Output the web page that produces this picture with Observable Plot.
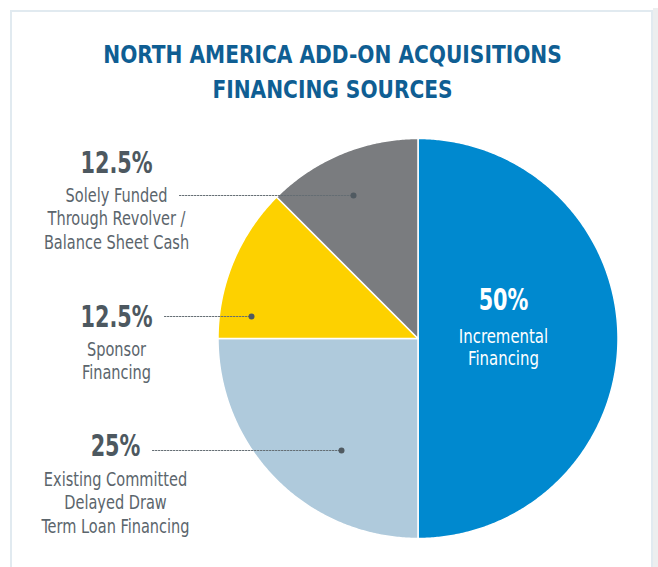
<!DOCTYPE html>
<html>
<head>
<meta charset="utf-8">
<script src="https://cdn.jsdelivr.net/npm/d3@7"></script>
<script src="https://cdn.jsdelivr.net/npm/@observablehq/plot@0.6"></script>
<style>
  html, body { margin: 0; padding: 0; background: #ffffff; }
  body { width: 658px; height: 567px; position: relative; overflow: hidden; }
  .frame { position: absolute; left: 10px; top: 10px; width: 639px; height: 600px;
           border: 2px solid #e1eaf0; box-sizing: content-box; }
  .shade { position: absolute; left: 653px; top: 8px; width: 5px; height: 600px; background: #eceeef; }
  #chart { position: absolute; left: 0; top: 0; }
</style>
</head>
<body>
<div class="shade"></div>
<div class="frame"></div>
<div id="chart"></div>
<script>
// ---- data ----
const categories = [
  "Incremental Financing",
  "Existing Committed Delayed Draw Term Loan Financing",
  "Sponsor Financing",
  "Solely Funded Through Revolver / Balance Sheet Cash"
];
const shares = [50, 25, 12.5, 12.5];
const percentLabels = ["50%", "25%", "12.5%", "12.5%"];
const descriptionLines = [
  ["Incremental", "Financing"],
  ["Existing Committed", "Delayed Draw", "Term Loan Financing"],
  ["Sponsor", "Financing"],
  ["Solely Funded", "Through Revolver /", "Balance Sheet Cash"]
];
const titleLines = ["NORTH AMERICA ADD-ON ACQUISITIONS", "FINANCING SOURCES"];

// ---- styles / layout ----
const sliceColors = ["#0089cf", "#afcadc", "#fdd100", "#7a7c7f"];
const W = 658, H = 567;
const CX = 417.5, CY = 338, R = 200;           // pie centre & radius in px
const ux = px => (px - CX) / R;                 // px -> unit coords
const vy = py => (CY - py) / R;
const FONT = '"Liberation Sans Narrow","DejaVu Sans Condensed","Roboto",sans-serif';

// label layout (px)
const layout = [
  {tx: 503, pctY: 309, descY: 342, inside: true},
  {tx: 115, pctY: 455, descY: 485, lx0: 152, ly: 450, dotX: 341},
  {tx: 116, pctY: 326, descY: 355, lx0: 164, ly: 316, dotX: 251},
  {tx: 116, pctY: 172, descY: 201, lx0: 179, ly: 195, dotX: 353}
];
const lineGap = 23.5;

// ---- pie geometry from data ----
const rows = categories.map((c, i) => ({key: c, share: shares[i]}));
const arcs = d3.pie().sort(null).value(d => d.share)(rows);
const slicePts = arcs.flatMap(a => {
  const pts = [{key: a.data.key, u: 0, v: 0}];
  const n = Math.max(4, Math.ceil((a.endAngle - a.startAngle) / (Math.PI / 360)));
  for (let i = 0; i <= n; i++) {
    const t = a.startAngle + (a.endAngle - a.startAngle) * i / n;
    pts.push({key: a.data.key, u: Math.sin(t), v: Math.cos(t)});
  }
  pts.push({key: a.data.key, u: 0, v: 0});
  return pts;
});

// ---- text rows ----
const pctRows = categories.map((c, i) => ({
  text: percentLabels[i], u: ux(layout[i].tx), v: vy(layout[i].pctY), inside: !!layout[i].inside
}));
const descRows = categories.flatMap((c, i) => descriptionLines[i].map((t, j) => ({
  text: t, u: ux(layout[i].tx), v: vy(layout[i].descY + j * (layout[i].inside ? 22.5 : lineGap)), inside: !!layout[i].inside
})));
const leaders = layout.filter(l => !l.inside).flatMap((l, k) => [
  {k, u: ux(l.lx0), v: vy(l.ly)}, {k, u: ux(l.dotX), v: vy(l.ly)}
]);
const dots = layout.filter(l => !l.inside).map(l => ({u: ux(l.dotX), v: vy(l.ly)}));
const titleRows = titleLines.map((t, i) => ({text: t, u: ux(332), v: vy(62 + i * 35)}));

const chart = Plot.plot({
  width: W, height: H,
  margin: 0,
  style: {background: "transparent", fontFamily: FONT, overflow: "visible"},
  x: {type: "linear", domain: [-1, 1], range: [CX - R, CX + R], axis: null},
  y: {type: "linear", domain: [-1, 1], range: [CY + R, CY - R], axis: null},
  color: {domain: categories, range: sliceColors},
  marks: [
    Plot.line(slicePts, {x: "u", y: "v", z: "key", fill: "key", stroke: "#ffffff", strokeWidth: 1.5, strokeLinejoin: "round", curve: "linear"}),
    Plot.line(leaders, {x: "u", y: "v", z: "k", stroke: "#646d73", strokeWidth: 1.2, strokeDasharray: "1.4,1.6"}),
    Plot.dot(dots, {x: "u", y: "v", r: 3, fill: "#505a61", stroke: "none"}),
    Plot.text(titleRows, {x: "u", y: "v", text: "text", lineAnchor: "bottom", textAnchor: "middle",
      fontSize: 24, fontWeight: "bold", fill: "#0f5e93", fontFamily: FONT}),
    Plot.text(pctRows, {x: "u", y: "v", text: "text", lineAnchor: "bottom", textAnchor: "middle",
      fontSize: 30, fontWeight: "bold", fill: d => d.inside ? "#ffffff" : "#4d5860", fontFamily: FONT}),
    Plot.text(descRows, {x: "u", y: "v", text: "text", lineAnchor: "bottom", textAnchor: "middle",
      fontSize: d => d.inside ? 20 : 19.5, fill: d => d.inside ? "#ffffff" : "#5b656c", fontFamily: FONT})
  ]
});
document.getElementById("chart").appendChild(chart);

// condense the glyphs horizontally (the reference uses a narrow typeface)
const squeeze = [0.935, 0.77, 0.83];
d3.select(chart).selectAll('g[aria-label="text"]').each(function(_, gi) {
  const k = squeeze[gi] ?? 1;
  d3.select(this).selectAll("text").each(function() {
    const el = d3.select(this);
    const tr = el.attr("transform");
    if (tr) el.attr("transform", tr + ` scale(${k},1)`);
  });
});
</script>
</body>
</html>
